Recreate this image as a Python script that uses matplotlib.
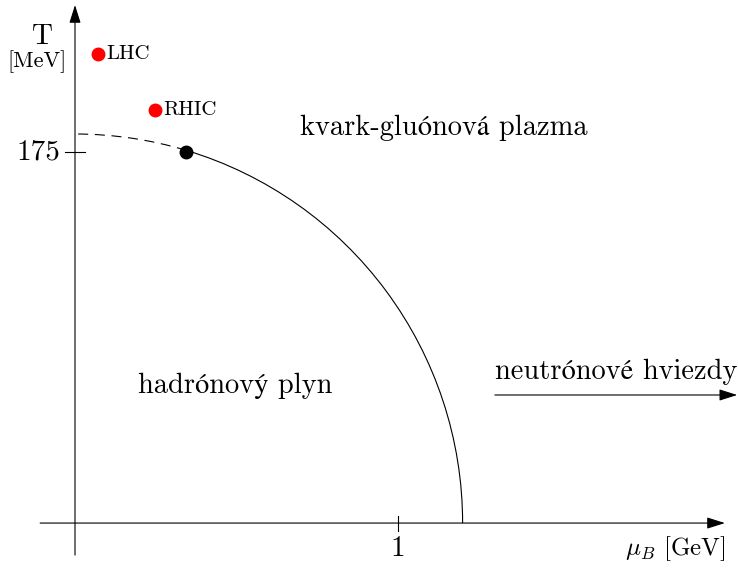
import numpy as np
import matplotlib
matplotlib.use("Agg")
import matplotlib.pyplot as plt
from matplotlib.patches import Arc

# phase diagram values (mu_B in GeV, T in MeV)
mu_crit, T_crit = 0.344, 175.0   # critical point
mu_edge, T_edge = 1.2, 183.5      # semi-axes of the transition line
exp_names = ["LHC", "RHIC"]
exp_mu = [0.071, 0.248]
exp_T = [221.2, 194.8]
x_ticks = [1]
y_ticks = [175]

plt.rcParams["font.family"] = ["cmr10", "STIXGeneral", "DejaVu Serif"]
plt.rcParams["mathtext.fontset"] = "cm"
plt.rcParams["axes.formatter.use_mathtext"] = True

fig = plt.figure(figsize=(7.38, 5.68), dpi=100)
ax = fig.add_axes([0, 0, 1, 1])
ax.set_xlim(-0.2322, 2.0526)
ax.set_ylim(-21.2, 246.7)
ax.axis("off")

arrow = dict(arrowstyle="-|>,head_length=1.1,head_width=0.35", color="black",
             lw=0.8, shrinkA=0, shrinkB=0)
# axes
ax.annotate("", xy=(2.012, 0), xytext=(-0.108, 0), arrowprops=arrow)
ax.annotate("", xy=(0, 244.3), xytext=(0, -15.1), arrowprops=arrow)
# ticks
for xt in x_ticks:
    ax.plot([xt, xt], [-3.8, 3.3], color="black", lw=0.8)
    ax.text(xt, -12.3, str(xt), ha="center", va="center", fontsize=21)
for yt in y_ticks:
    ax.plot([-0.031, 0.031], [yt, yt], color="black", lw=0.8)
    ax.text(-0.046, yt, str(yt), ha="right", va="center", fontsize=21)

ax.text(-0.102, 229.5, "T", ha="center", va="center", fontsize=21)
ax.text(-0.118, 217.5, "[MeV]", ha="center", va="center", fontsize=16)
ax.text(2.015, -12.0, r"$\mu_B$ [GeV]", ha="right", va="center", fontsize=18)

# transition line: solid crossover part and dashed part
theta_c = np.degrees(np.arctan2(T_crit, mu_crit))
ax.add_patch(Arc((0, 0), 2 * mu_edge, 2 * T_edge, theta1=0, theta2=theta_c,
                 color="black", lw=0.8))
ax.add_patch(Arc((0, 0), 2 * mu_edge, 2 * T_edge, theta1=theta_c, theta2=90,
                 color="black", lw=0.8, linestyle=(0, (9, 6))))
ax.plot(mu_crit, T_crit, "o", color="black", ms=9)

for name, m, t in zip(exp_names, exp_mu, exp_T):
    ax.plot(m, t, "o", color="red", ms=9)
    ax.text(m + 0.025, t, name, ha="left", va="center", fontsize=15)

ax.text(1.142, 186.3, "kvark-gluónová plazma", ha="center", va="center", fontsize=20.5)
ax.text(0.495, 64.6, "hadrónový plyn", ha="center", va="center", fontsize=20.5)
ax.text(1.675, 71.5, "neutrónové hviezdy", ha="center", va="center", fontsize=20.5)
ax.annotate("", xy=(2.05, 60.4), xytext=(1.30, 60.4), arrowprops=arrow)

fig.savefig("out.png", dpi=100)
